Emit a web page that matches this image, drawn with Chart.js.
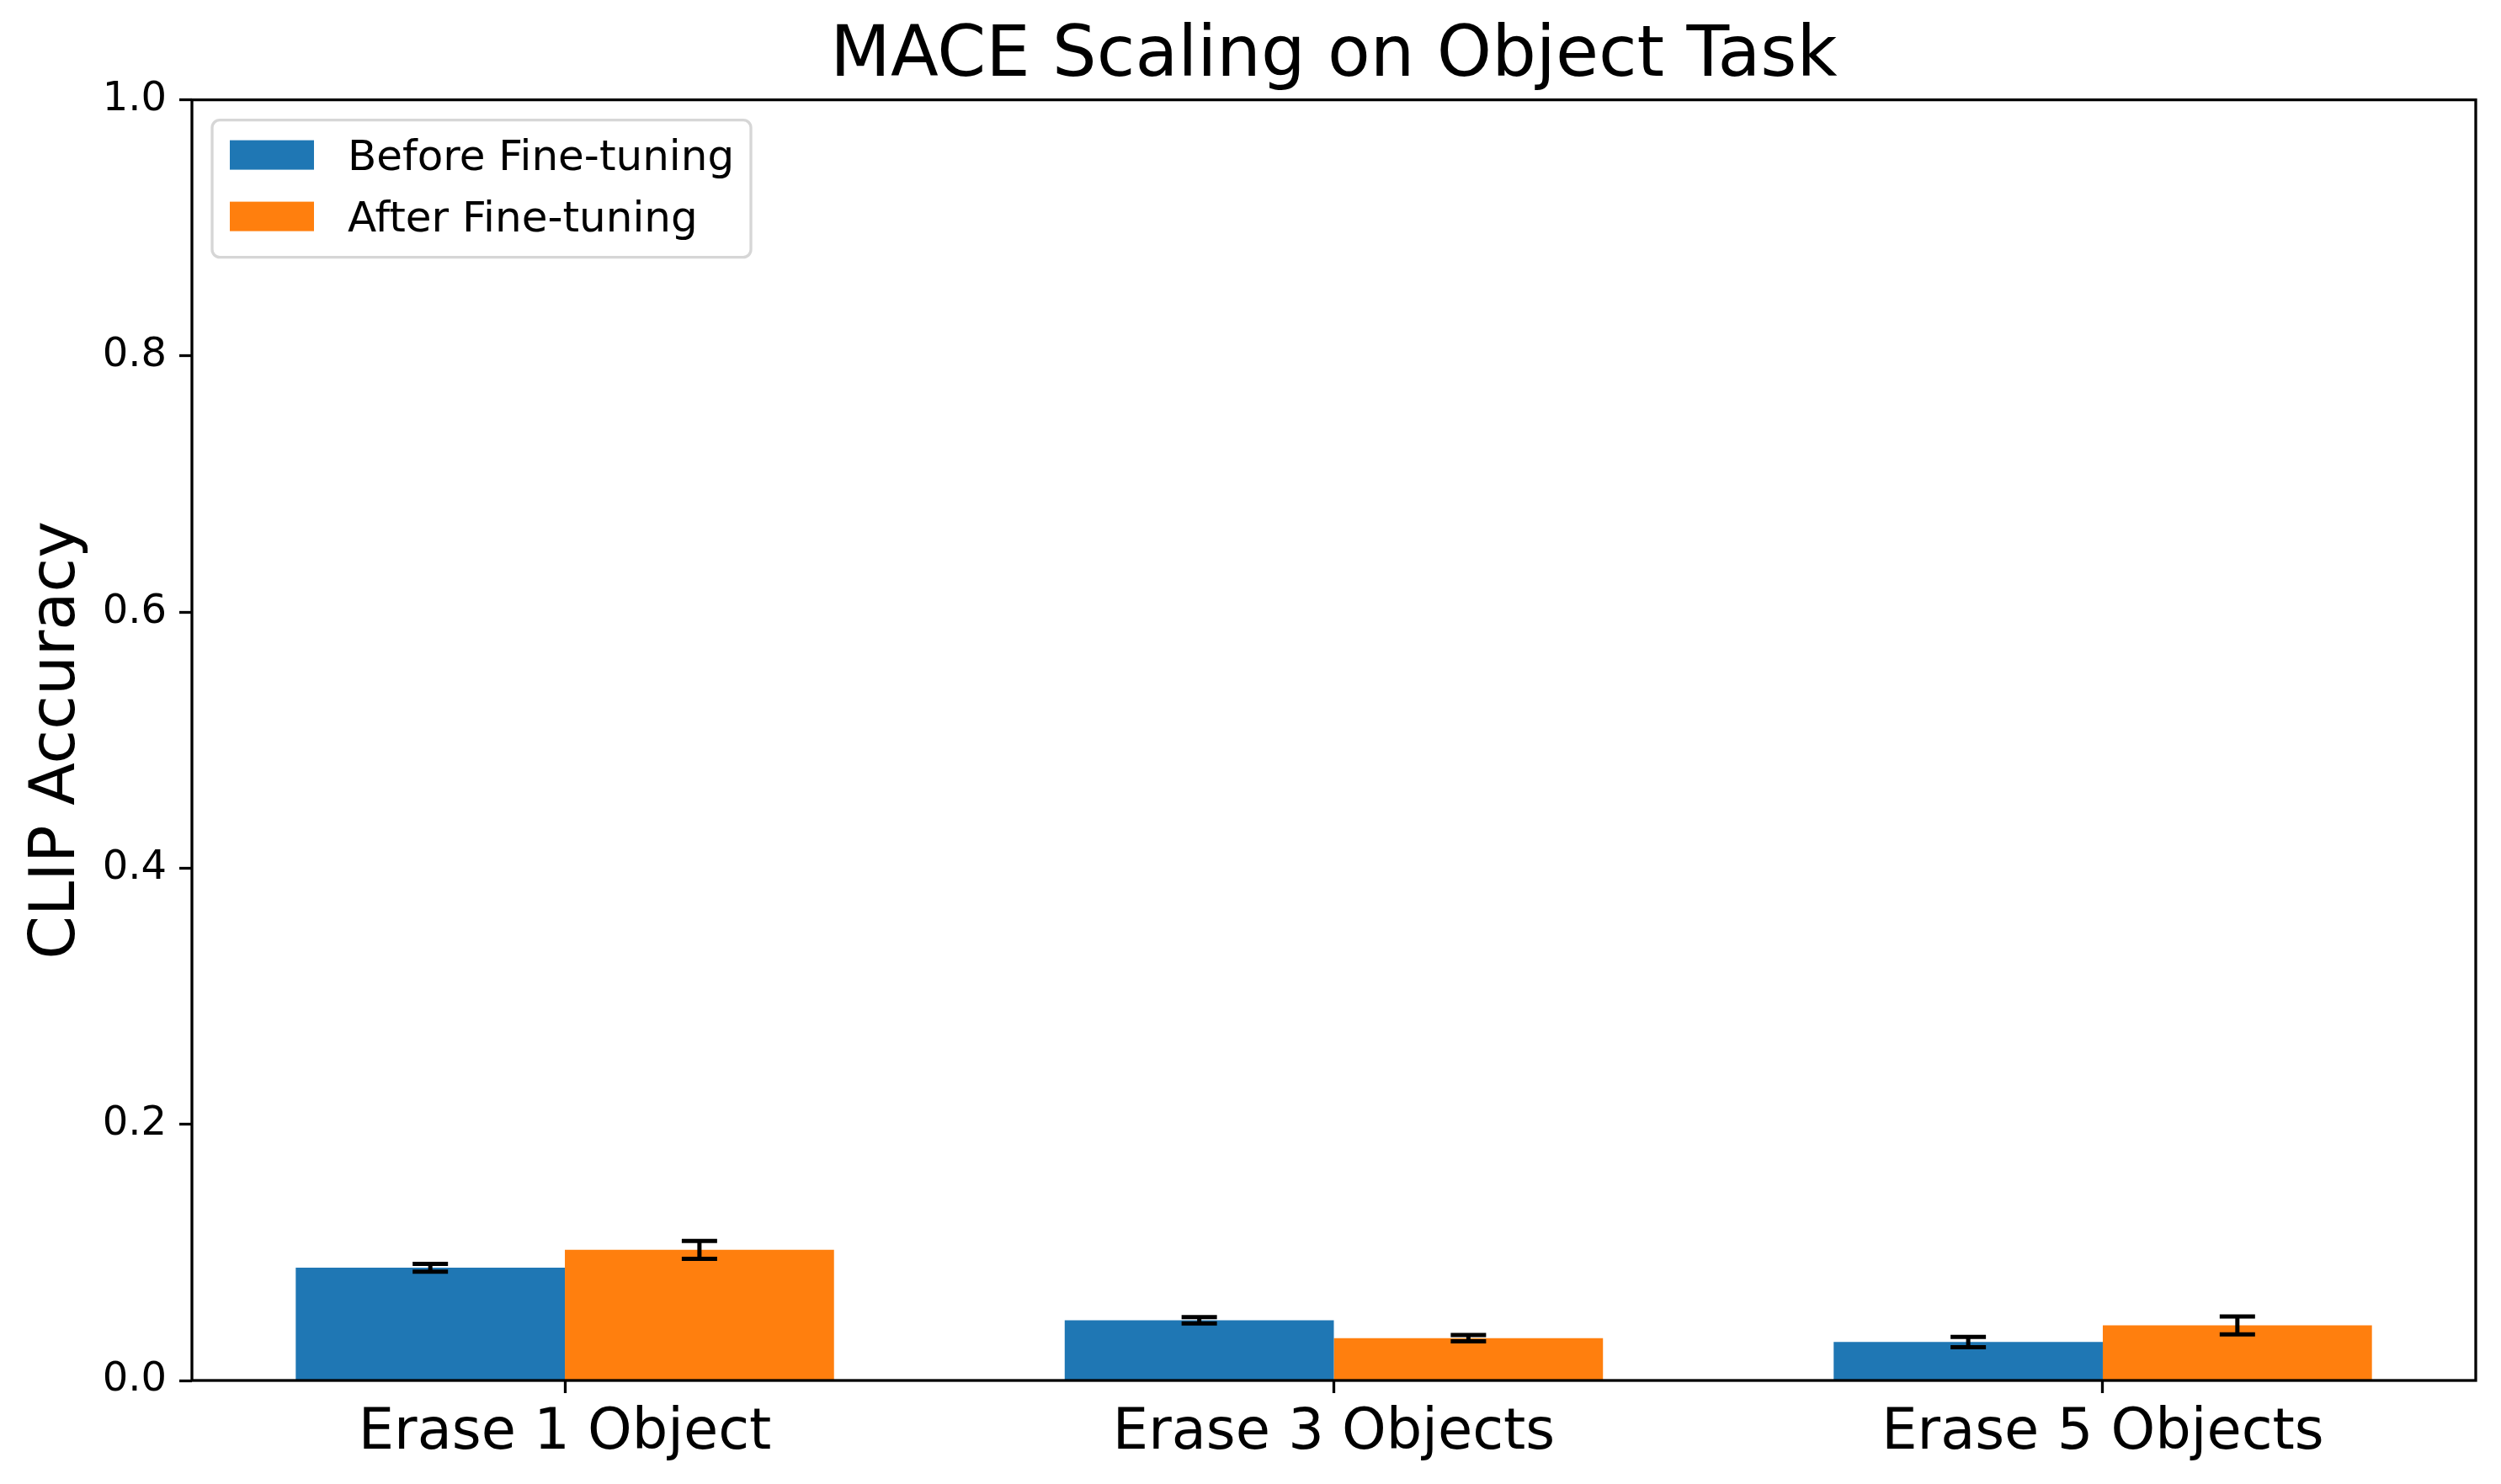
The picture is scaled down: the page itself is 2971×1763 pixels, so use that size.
<!DOCTYPE html>
<html>
<head>
<meta charset="utf-8">
<script src="https://cdn.jsdelivr.net/npm/chart.js@4.4.1/dist/chart.umd.min.js"></script>
<style>
  body { margin: 0; background: #fff; }
  canvas { display: block; }
</style>
</head>
<body>
<canvas id="chart" width="2971" height="1763"></canvas>
<script>
// Chart data
const categories = ['Erase 1 Object', 'Erase 3 Objects', 'Erase 5 Objects'];
const seriesNames = ['Before Fine-tuning', 'After Fine-tuning'];
const beforeValues = [0.088, 0.047, 0.030];
const afterValues = [0.102, 0.033, 0.043];
const beforeErrors = [0.003, 0.0025, 0.004];
const afterErrors = [0.007, 0.0025, 0.007];
const yTicks = [0.0, 0.2, 0.4, 0.6, 0.8, 1.0];

Chart.defaults.font.family = "'DejaVu Sans', sans-serif";
Chart.defaults.color = '#000';

// error bars drawn on top of the bars
const errorBars = {
  id: 'errorBars',
  afterDatasetsDraw(chart) {
    const ctx = chart.ctx;
    const yScale = chart.scales.y;
    ctx.save();
    ctx.strokeStyle = '#000';
    ctx.lineWidth = 5;
    chart.data.datasets.forEach((ds, di) => {
      const meta = chart.getDatasetMeta(di);
      meta.data.forEach((bar, i) => {
        const v = ds.data[i].y;
        const e = ds.errors[i];
        const top = yScale.getPixelForValue(v + e);
        const bot = yScale.getPixelForValue(v - e);
        ctx.beginPath();
        ctx.moveTo(bar.x, top);
        ctx.lineTo(bar.x, bot);
        ctx.moveTo(bar.x - 21, top);
        ctx.lineTo(bar.x + 21, top);
        ctx.moveTo(bar.x - 21, bot);
        ctx.lineTo(bar.x + 21, bot);
        ctx.stroke();
      });
    });
    ctx.restore();
  }
};

// axes frame + legend box inside the plot
const frameAndLegend = {
  id: 'frameAndLegend',
  afterDraw(chart) {
    const ctx = chart.ctx;
    const a = chart.chartArea;
    ctx.save();
    ctx.strokeStyle = '#000';
    ctx.lineWidth = 3.3;
    ctx.strokeRect(a.left, a.top, a.right - a.left, a.bottom - a.top);

    const bx = a.left + 24, by = a.top + 24, bw = 640, bh = 163;
    ctx.beginPath();
    ctx.roundRect(bx, by, bw, bh, 9);
    ctx.fillStyle = 'rgba(255,255,255,0.8)';
    ctx.fill();
    ctx.strokeStyle = '#d6d6d6';
    ctx.lineWidth = 3.3;
    ctx.stroke();

    ctx.font = "50px 'DejaVu Sans'";
    ctx.textBaseline = 'alphabetic';
    chart.data.datasets.forEach((ds, i) => {
      const py = by + 24 + i * 73;
      ctx.fillStyle = ds.backgroundColor;
      ctx.fillRect(bx + 21, py, 100, 35);
      ctx.fillStyle = '#000';
      ctx.fillText(ds.label, bx + 161, py + 35);
    });
    ctx.restore();
  }
};

new Chart(document.getElementById('chart'), {
  type: 'bar',
  data: {
    datasets: [
      {
        label: seriesNames[0],
        data: beforeValues.map((v, i) => ({ x: i, y: v })),
        errors: beforeErrors,
        backgroundColor: '#1f77b4',
        categoryPercentage: 0.7,
        barPercentage: 1.0
      },
      {
        label: seriesNames[1],
        data: afterValues.map((v, i) => ({ x: i, y: v })),
        errors: afterErrors,
        backgroundColor: '#ff7f0e',
        categoryPercentage: 0.7,
        barPercentage: 1.0
      }
    ]
  },
  options: {
    responsive: false,
    devicePixelRatio: 1,
    animation: false,
    layout: { padding: { top: 0, right: 30, bottom: 0, left: 0 } },
    plugins: {
      legend: { display: false },
      tooltip: { enabled: false },
      title: {
        display: true,
        text: 'MACE Scaling on Object Task',
        fullSize: false,
        color: '#000',
        font: { size: 83, weight: 'normal', lineHeight: 1.2 },
        padding: { top: 19, bottom: 0 }
      }
    },
    scales: {
      x: {
        type: 'linear',
        min: -0.485,
        max: 2.485,
        offset: false,
        afterBuildTicks: s => { s.ticks = categories.map((c, i) => ({ value: i })); },
        ticks: {
          callback: v => categories[v],
          font: { size: 67 },
          color: '#000',
          padding: 8,
          maxRotation: 0,
          autoSkip: false
        },
        grid: { offset: false, drawOnChartArea: false, tickLength: 15, tickWidth: 3.3, color: '#000' },
        border: { display: false },
        afterFit: s => { s.height = 123; }
      },
      y: {
        min: 0,
        max: 1,
        afterBuildTicks: s => { s.ticks = yTicks.map(v => ({ value: v })); },
        ticks: {
          callback: v => v.toFixed(1),
          font: { size: 48 },
          color: '#000',
          padding: 15
        },
        grid: { drawOnChartArea: false, tickLength: 15, tickWidth: 3.3, color: '#000' },
        border: { display: false },
        title: {
          display: true,
          text: 'CLIP Accuracy',
          color: '#000',
          font: { size: 74, lineHeight: 1.2 },
          padding: { top: 24, bottom: 0 }
        },
        afterFit: s => { s.width = 228; }
      }
    }
  },
  plugins: [errorBars, frameAndLegend]
});
</script>
</body>
</html>
